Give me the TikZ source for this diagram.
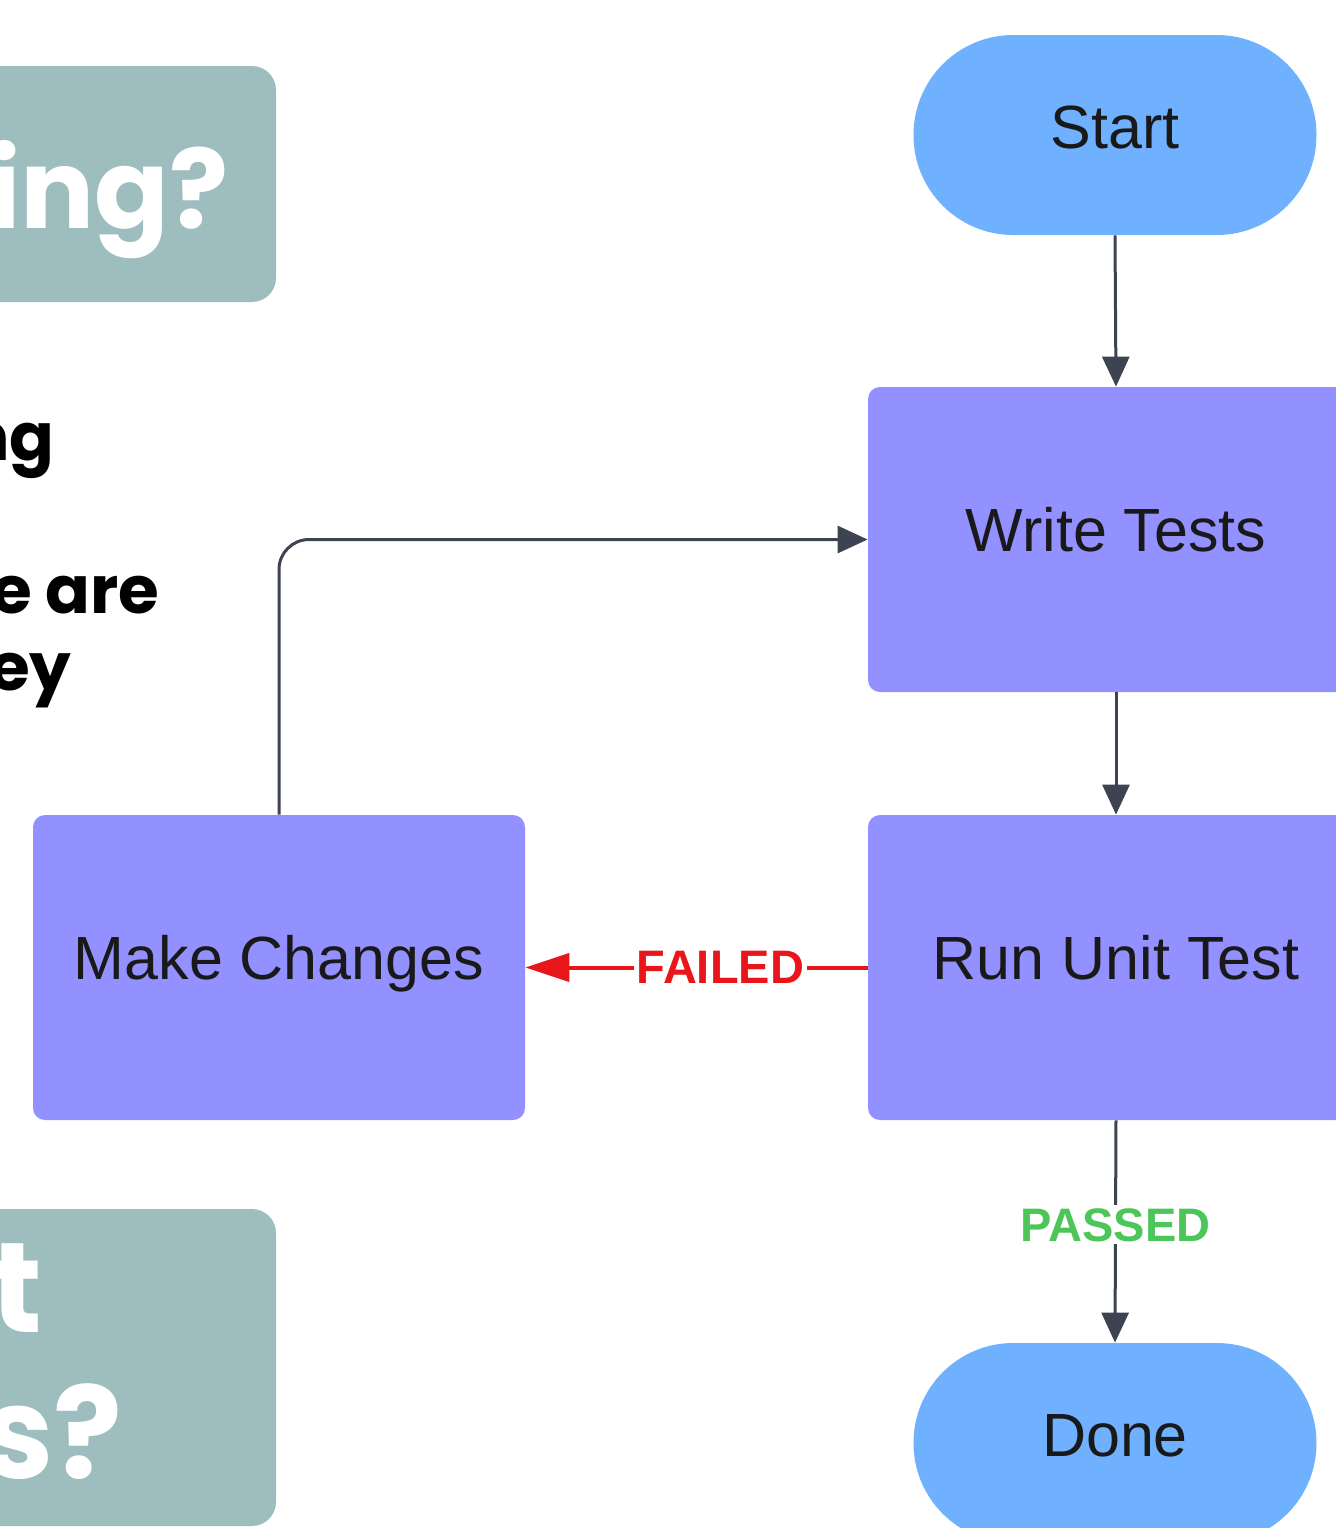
\documentclass[tikz,border=0pt]{standalone}
\usepackage{fontspec}
\setmainfont{Liberation Sans}
\newfontfamily\pop{Poppins}
\usetikzlibrary{arrows.meta}
\definecolor{teal}{HTML}{9DBDBF}
\definecolor{sblue}{HTML}{70B1FF}
\definecolor{purp}{HTML}{9391FF}
\definecolor{arr}{HTML}{3D4350}
\definecolor{fred}{HTML}{E8161B}
\definecolor{pgreen}{HTML}{4CC659}
\tikzset{
  terminal/.style={fill=sblue, rounded corners=49.9pt, minimum width=201.5pt, minimum height=100pt, inner sep=0pt, font=\fontsize{30.5}{36}\selectfont, text=black!90, text height=21.8pt, text depth=8pt},
  procbox/.style={fill=purp, rounded corners=6pt, minimum width=248pt, minimum height=152.5pt, inner sep=0pt, font=\fontsize{30.5}{36}\selectfont, text=black!90, text height=21.8pt, text depth=9.5pt},
  tealbox/.style={fill=teal, rounded corners=12pt},
  whitehead/.style={text=white, font=\pop\bfseries\fontsize{55}{62}\selectfont, inner sep=0pt, anchor=base east},
  bigwhite/.style={text=white, font=\pop\bfseries\fontsize{64}{72}\selectfont, inner sep=0pt, anchor=base east},
  bodytext/.style={text=black, font=\pop\bfseries\fontsize{33}{40}\selectfont, inner sep=0pt, anchor=base east},
  flow/.style={draw=arr, line width=1.5pt, -{Triangle[length=15pt,width=13.5pt]}},
  lbl/.style={font=\bfseries\fontsize{23.5}{28}\selectfont, fill=white, inner sep=1.5pt}
}
\begin{document}
\begin{tikzpicture}[x=0.5pt,y=-0.5pt]
\useasboundingbox (0,0) rectangle (1336,1528);
\clip (0,0) rectangle (1336,1528);
\fill[white] (0,0) rectangle (1336,1528);
% left fragments
\fill[tealbox] (-40,66) rectangle (276,302);
\node[whitehead] (t1) at (229,228) {ing?};
\node[bodytext] (b1) at (55,460) {ng};
\node[bodytext] (b2) at (160,613) {e are};
\node[bodytext] (b3) at (72,690) {ey};
\fill[tealbox] (-40,1209) rectangle (276,1526);
\node[bigwhite] (t2) at (43,1332) {t};
\node[bigwhite] (t3) at (123,1478) {rs?};
% flowchart
\node[terminal] (start) at (1115,135) {Start};
\node[procbox] (write) at (1116,539.5) {Write Tests};
\node[procbox] (run) at (1116,967.5) {Run Unit Test};
\node[procbox, minimum width=246pt] (make) at (279,967.5) {Make Changes};
\node[terminal] (done) at (1115,1443) {Done};
\draw[flow] (start.south) -- (write.north);
\draw[flow] (write.south) -- (run.north);
\draw[flow, rounded corners=15pt] (make.north) |- (write.west);
\draw[draw=fred, line width=2pt, -{Triangle[length=22pt,width=14pt]}] (run.west) -- node[lbl, text=fred, pos=0.43] {FAILED} (make.east);
\draw[flow] (run.south) -- node[lbl, text=pgreen, pos=0.47] {PASSED} (done.north);
\end{tikzpicture}
\end{document}
